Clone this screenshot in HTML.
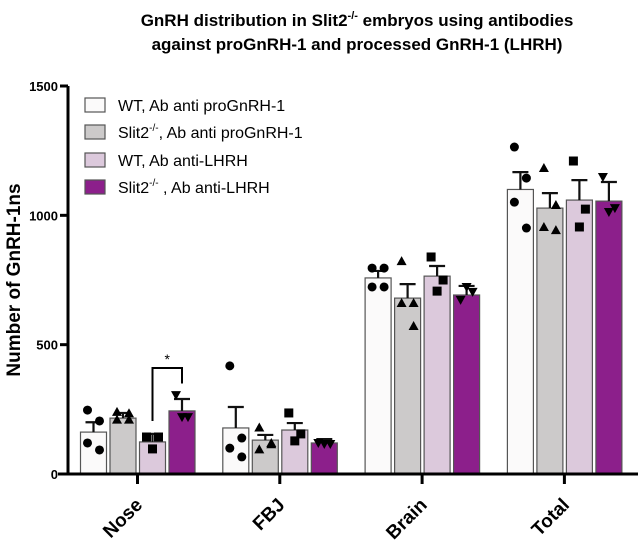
<!DOCTYPE html>
<html><head><meta charset="utf-8"><style>
body{margin:0;background:#fff;}
svg{display:block;font-family:"Liberation Sans",Arial,sans-serif;}
</style></head><body>
<svg id="chart" width="638" height="547" viewBox="0 0 638 547">
<text x="357" y="26" text-anchor="middle" font-weight="bold" font-size="17">GnRH distribution in Slit2<tspan font-size="11" dy="-7">-/-</tspan><tspan dy="7"> embryos using antibodies</tspan></text>
<text x="357" y="50" text-anchor="middle" font-weight="bold" font-size="17">against proGnRH-1 and processed GnRH-1 (LHRH)</text>
<text transform="translate(20,280) rotate(-90)" text-anchor="middle" font-weight="bold" font-size="19">Number of GnRH-1ns</text>
<g id="plot"></g>
<g id="legend"></g>
</svg>
<script>
const categories=["Nose","FBJ","Brain","Total"];
const seriesNames=["WT, Ab anti proGnRH-1","Slit2-/-, Ab anti proGnRH-1","WT, Ab anti-LHRH","Slit2-/- , Ab anti-LHRH"];
const wtPro=[162,178,758,1100];
const koPro=[216,131,680,1028];
const wtLhrh=[124,170,765,1059];
const koLhrh=[244,120,692,1055];
const semWtPro=[38,81,27,67];
const semKoPro=[20,20,54,58];
const semWtLhrh=[31,27,39,77];
const semKoLhrh=[46,15,35,74];
const ptsWtPro=[[247,205,120,93],[418,139,100,66],[796,796,723,723],[1264,1144,1051,951]];
const ptsKoPro=[[240,235,210,210],[180,115,95,120],[823,661,661,572],[1183,1040,955,943]];
const ptsWtLhrh=[[143,143,97],[236,155,128],[839,750,707],[1210,1024,955]];
const ptsKoLhrh=[[305,220,220],[120,116,116],[673,704,723],[1148,1028,1013]];
const yTicks=[0,500,1000,1500];

const NS="http://www.w3.org/2000/svg";
const plot=document.getElementById('plot');
const legend=document.getElementById('legend');
const y0=474,yScale=388/1500;
function y(v){return y0-v*yScale;}
function groupX(i){return 137.5+i*142.3;}
function barX(i,s){return groupX(i)-57+s*29.5;}
const BW=26;
const colors=["#fbfafa","#cccaca","#dcc9dc","#8c1f8b"];
const series=[wtPro,koPro,wtLhrh,koLhrh];
const sems=[semWtPro,semKoPro,semWtLhrh,semKoLhrh];
const pts=[ptsWtPro,ptsKoPro,ptsWtLhrh,ptsKoLhrh];
const shapes=["circle","tri","square","itri"];
function mk(tag,attrs,parent){const e=document.createElementNS(NS,tag);for(const k in attrs)e.setAttribute(k,attrs[k]);parent.appendChild(e);return e;}

series.forEach((vals,s)=>{
  vals.forEach((v,i)=>{
    const x=barX(i,s);
    const r=mk('rect',{x:x,y:y(v),width:BW,height:y0-y(v),fill:colors[s],stroke:"#555","stroke-width":1.2},plot);
    
    
    const cx=x+BW/2,top=y(v+sems[s][i]);
    const e=mk('path',{d:`M${cx} ${y(v)}V${top}M${cx-8} ${top}H${cx+8}`,stroke:"#111","stroke-width":2.2,fill:"none"},plot);
    
    
    const p=pts[s][i];
    p.forEach((pv,k)=>{
      const n=p.length;
      const off=n===4?[-6,6,-6,6][k]:[-6,6,0][k];
      const px=cx+off,py=y(pv);
      let m;
      if(shapes[s]==="circle")m=mk('circle',{cx:px,cy:py,r:4.5,fill:"#000"},plot);
      else if(shapes[s]==="square")m=mk('rect',{x:px-4.5,y:py-4.5,width:9,height:9,fill:"#000"},plot);
      else if(shapes[s]==="tri")m=mk('path',{d:`M${px} ${py-5}L${px+5} ${py+4}L${px-5} ${py+4}Z`,fill:"#000"},plot);
      else m=mk('path',{d:`M${px} ${py+5}L${px+5} ${py-4}L${px-5} ${py-4}Z`,fill:"#000"},plot);
      
      
    });
  });
});
const ya=mk('path',{d:`M68 ${y(1500)}V${y0}`,stroke:"#000","stroke-width":3,fill:"none"},plot);


const xa=mk('path',{d:`M58 ${y0}H638`,stroke:"#000","stroke-width":3,fill:"none"},plot);


yTicks.forEach(t=>{
  const tk=mk('path',{d:`M60 ${y(t)}H68`,stroke:"#000","stroke-width":3},plot);
  
  
  const tl=mk('text',{x:58,y:y(t)+5,"text-anchor":"end","font-size":13,"font-weight":"bold"},plot);
  tl.textContent=t;
  
  
});
categories.forEach((c,i)=>{
  const gx=groupX(i);
  const tk=mk('path',{d:`M${gx} ${y0}V${y0+10}`,stroke:"#000","stroke-width":3},plot);
  
  
  const tl=mk('text',{transform:`translate(${gx+6},${y0+32}) rotate(-45)`,"text-anchor":"end","font-size":19,"font-weight":"bold"},plot);
  tl.textContent=c;
  
  
});
const bx1=barX(0,2)+BW/2,bx2=barX(0,3)+BW/2;
const br=mk('path',{d:`M${bx1} ${y(205)}V${y(410)}H${bx2}V${y(350)}`,stroke:"#000","stroke-width":2,fill:"none"},plot);


const st=mk('text',{x:(bx1+bx2)/2,y:y(410)-4,"text-anchor":"middle","font-size":14},plot);
st.textContent="*";


const legendRows=[105,132,160,187];
seriesNames.forEach((n,s)=>{
  const ly=legendRows[s];
  const b=mk('rect',{x:85,y:ly-7,width:20,height:14,fill:colors[s],stroke:"#555","stroke-width":1.2},legend);
  
  
  const t=mk('text',{x:118,y:ly+6,"font-size":16},legend);
  
  
  if(n.startsWith("Slit2-/-")){
    t.textContent="Slit2";
    const sup=mk('tspan',{"font-size":10,dy:-7},t);sup.textContent="-/-";
    const rest=mk('tspan',{dy:7},t);rest.textContent=n.slice(8);
  } else t.textContent=n;
});
</script>
</body></html>
